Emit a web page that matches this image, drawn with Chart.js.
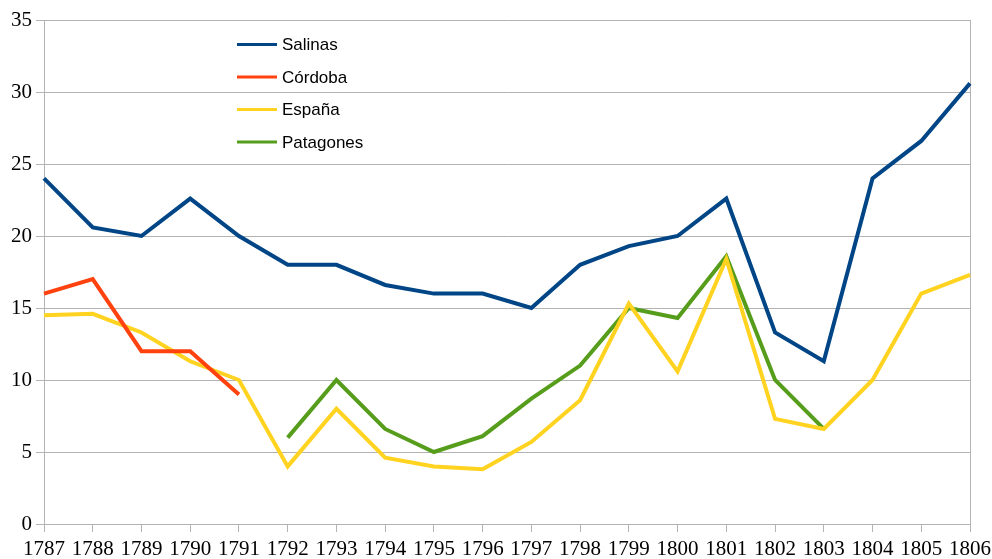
<!DOCTYPE html>
<html>
<head>
<meta charset="utf-8">
<script src="https://cdn.jsdelivr.net/npm/chart.js@4/dist/chart.umd.min.js"></script>
<style>
  html, body { margin:0; padding:0; background:#fff; }
  #wrap { width:992px; height:559px; position:relative; }
</style>
</head>
<body>
<div id="wrap"><canvas id="c"></canvas></div>
<script>
const years = ['1787','1788','1789','1790','1791','1792','1793','1794','1795','1796',
               '1797','1798','1799','1800','1801','1802','1803','1804','1805','1806'];
const salinas   = [24, 20.6, 20, 22.6, 20, 18, 18, 16.6, 16, 16, 15, 18, 19.3, 20, 22.6, 13.3, 11.3, 24, 26.6, 30.6];
const cordoba   = [16, 17, 12, 12, 9, null, null, null, null, null, null, null, null, null, null, null, null, null, null, null];
const espana    = [14.5, 14.6, 13.3, 11.3, 10, 4, 8, 4.6, 4, 3.8, 5.7, 8.6, 15.3, 10.6, 18.4, 7.3, 6.6, 10, 16, 17.3];
const patagones = [null, null, null, null, null, 6, 10, 6.6, 5, 6.1, 8.7, 11, 15, 14.3, 18.6, 10, 6.6, null, null, null];
const yTicks = [0, 5, 10, 15, 20, 25, 30, 35];

const gridCol = '#b3b3b3';

function line(label, data, color){
  return { label, data, borderColor: color, backgroundColor: color, borderWidth: 4,
           pointRadius: 0, tension: 0, spanGaps: false, borderJoinStyle: 'miter' };
}

// legend drawn inside the plot, no box
const innerLegend = {
  id: 'innerLegend',
  afterDatasetsDraw(chart){
    const ctx = chart.ctx;
    ctx.save();
    ctx.font = '17px "Liberation Sans", Arial, sans-serif';
    ctx.textBaseline = 'middle';
    ctx.fillStyle = '#000';
    chart.data.datasets.forEach((ds, i) => {
      const y = 44.5 + i * 32.5;
      ctx.strokeStyle = ds.borderColor;
      ctx.lineWidth = 3;
      ctx.beginPath(); ctx.moveTo(237, y); ctx.lineTo(277, y); ctx.stroke();
      ctx.fillText(ds.label, 282, y + 1);
    });
    ctx.restore();
  }
};

new Chart(document.getElementById('c'), {
  type: 'line',
  data: {
    labels: years,
    datasets: [
      line('Salinas', salinas, '#004586'),
      line('Córdoba', cordoba, '#ff420e'),
      line('España', espana, '#ffd320'),
      line('Patagones', patagones, '#579d1c')
    ]
  },
  options: {
    responsive: true, maintainAspectRatio: false, animation: false,
    layout: { padding: { top: 20, right: 0, left: 0, bottom: 0 } },
    plugins: { legend: { display: false }, tooltip: { enabled: false } },
    scales: {
      x: {
        offset: false,
        grid: {
          color: c => (c.index === 0 || c.index === years.length - 1) ? gridCol : 'rgba(0,0,0,0)',
          tickColor: gridCol, tickLength: 8, lineWidth: 1
        },
        border: { color: gridCol },
        ticks: { color: '#000', maxRotation: 0, autoSkip: false, padding: 5,
                 font: { family: '"Liberation Serif", "Times New Roman", serif', size: 21 } },
        afterFit(s){ s.height = 35; s.paddingRight = 22; s.paddingLeft = 0; }
      },
      y: {
        min: 0, max: 35,
        afterBuildTicks(s){ s.ticks = yTicks.map(v => ({ value: v })); },
        grid: { color: gridCol, tickColor: gridCol, tickLength: 8 },
        border: { color: gridCol },
        ticks: { color: '#000', padding: 4,
                 font: { family: '"Liberation Serif", "Times New Roman", serif', size: 21 } },
        afterFit(s){ s.width = 44; }
      }
    }
  },
  plugins: [innerLegend]
});
</script>
</body>
</html>
